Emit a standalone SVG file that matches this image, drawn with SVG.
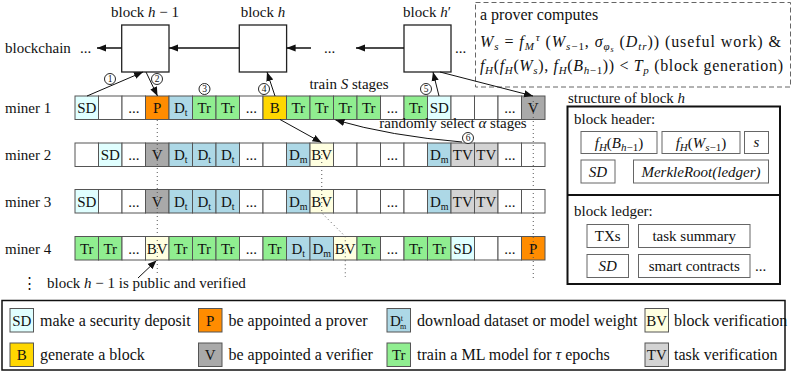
<svg xmlns="http://www.w3.org/2000/svg" width="793" height="373" viewBox="0 0 793 373">
<defs>
<style>
text{font-family:"Liberation Serif","DejaVu Serif",serif;font-size:15px;fill:#111}
.m{font-style:italic}
.c{text-anchor:middle}
.lg{font-size:16px}
.num{font-size:9.5px;text-anchor:middle}
.ring{fill:#fff;stroke:#111;stroke-width:0.9}
.cell{stroke:#555;stroke-width:1}
.blank{fill:#fff}
.sd{fill:#e0ffff}
.p{fill:#ff8c00}
.d{fill:#add8e6}
.tr{fill:#90ee90}
.b{fill:#ffd700}
.v{fill:#a9a9a9}
.bv{fill:#ffffe0}
.tv{fill:#d3d3d3}
.blk{fill:#fff;stroke:#222;stroke-width:1.3}
.arr{stroke:#111;stroke-width:1;fill:none;marker-end:url(#ah)}
.arrT{stroke:#111;stroke-width:1.5;fill:none;marker-end:url(#ah)}
.dot{stroke:#555;stroke-width:1;stroke-dasharray:1 3;fill:none}
.box{fill:#fff;stroke:#666;stroke-width:1}
</style>
<marker id="ah" viewBox="0 0 10 10" refX="10" refY="5" markerWidth="9" markerHeight="9" markerUnits="userSpaceOnUse" orient="auto">
<path d="M0,1 L10,5 L0,9 z" fill="#111"/>
</marker>
</defs>
<rect width="793" height="373" fill="#fff"/>

<!-- blockchain -->
<g id="blockchain">
<text x="5" y="53">blockchain</text>
<text x="80" y="53">...</text>
</g>
<g id="block-h-1">
<rect class="blk" x="121.7" y="25" width="47.3" height="47"/>
<text class="c" x="145" y="17">block <tspan class="m">h</tspan> − 1</text>
</g>
<g id="block-h">
<rect class="blk" x="239.3" y="25" width="47.3" height="47"/>
<text class="c" x="263" y="17">block <tspan class="m">h</tspan></text>
</g>
<text x="324" y="53">...</text>
<g id="block-h-prime">
<rect class="blk" x="404" y="25" width="47" height="47"/>
<text class="c" x="427" y="17">block <tspan class="m">h</tspan>′</text>
</g>
<text x="455" y="53">...</text>

<!-- prover box -->
<g id="prover-note">
<rect x="475.5" y="2.5" width="315" height="84.5" fill="none" stroke="#666" stroke-width="1" stroke-dasharray="5 3"/>
<text class="lg" x="480" y="20">a prover computes</text>
<text class="lg" x="480" y="47" textLength="301" lengthAdjust="spacing"><tspan class="m">W</tspan><tspan class="m" font-size="11" dy="3">s</tspan><tspan dy="-3"> = </tspan><tspan class="m">f</tspan><tspan class="m" font-size="11" dy="3">M</tspan><tspan class="m" font-size="11" dx="1" dy="-9">τ</tspan><tspan dy="6"> (</tspan><tspan class="m">W</tspan><tspan class="m" font-size="11" dy="3">s</tspan><tspan font-size="11">−1</tspan><tspan dy="-3">, </tspan><tspan class="m">σ</tspan><tspan class="m" font-size="11" dy="3">φ</tspan><tspan class="m" font-size="8" dy="2">s</tspan><tspan dy="-5"> (</tspan><tspan class="m">D</tspan><tspan class="m" font-size="11" dy="3">tr</tspan><tspan dy="-3">)) (useful work) &amp;</tspan></text>
<text class="lg" x="480" y="71" textLength="303" lengthAdjust="spacing"><tspan class="m">f</tspan><tspan class="m" font-size="11" dy="3">H</tspan><tspan dy="-3">(</tspan><tspan class="m">f</tspan><tspan class="m" font-size="11" dy="3">H</tspan><tspan dy="-3">(</tspan><tspan class="m">W</tspan><tspan class="m" font-size="11" dy="3">s</tspan><tspan dy="-3">), </tspan><tspan class="m">f</tspan><tspan class="m" font-size="11" dy="3">H</tspan><tspan dy="-3">(</tspan><tspan class="m">B</tspan><tspan class="m" font-size="11" dy="3">h</tspan><tspan font-size="11">−1</tspan><tspan dy="-3">)) &lt; </tspan><tspan class="m">T</tspan><tspan class="m" font-size="11" dy="3">p</tspan><tspan dy="-3"> (block generation)</tspan></text>
</g>

<!-- miner 1 -->
<g id="miner1">
<text x="5" y="113" font-size="15.5">miner 1</text>
<g transform="translate(75,96)">
<rect class="cell sd" x="0" y="0" width="23.5" height="23.5"/><text class="c" x="11.75" y="16.5">SD</text>
<rect class="cell blank" x="23.5" y="0" width="23.5" height="23.5"/>
<rect class="cell blank" x="47" y="0" width="23.5" height="23.5"/><text class="c" x="58.75" y="16.5">...</text>
<rect class="cell p" x="70.5" y="0" width="23.5" height="23.5"/><text class="c" x="82.25" y="16.5">P</text>
<rect class="cell d" x="94" y="0" width="23.5" height="23.5"/><text class="c" x="105.75" y="16.5">D<tspan font-size="10" dy="3">t</tspan></text>
<rect class="cell tr" x="117.5" y="0" width="23.5" height="23.5"/><text class="c" x="129.25" y="16.5">Tr</text>
<rect class="cell tr" x="141" y="0" width="23.5" height="23.5"/><text class="c" x="152.75" y="16.5">Tr</text>
<rect class="cell blank" x="164.5" y="0" width="23.5" height="23.5"/><text class="c" x="176.25" y="16.5">...</text>
<rect class="cell b" x="188" y="0" width="23.5" height="23.5"/><text class="c" x="199.75" y="16.5">B</text>
<rect class="cell tr" x="211.5" y="0" width="23.5" height="23.5"/><text class="c" x="223.25" y="16.5">Tr</text>
<rect class="cell tr" x="235" y="0" width="23.5" height="23.5"/><text class="c" x="246.75" y="16.5">Tr</text>
<rect class="cell tr" x="258.5" y="0" width="23.5" height="23.5"/><text class="c" x="270.25" y="16.5">Tr</text>
<rect class="cell tr" x="282" y="0" width="23.5" height="23.5"/><text class="c" x="293.75" y="16.5">Tr</text>
<rect class="cell blank" x="305.5" y="0" width="23.5" height="23.5"/><text class="c" x="317.25" y="16.5">...</text>
<rect class="cell tr" x="329" y="0" width="23.5" height="23.5"/><text class="c" x="340.75" y="16.5">Tr</text>
<rect class="cell sd" x="352.5" y="0" width="23.5" height="23.5"/><text class="c" x="364.25" y="16.5">SD</text>
<rect class="cell blank" x="376" y="0" width="23.5" height="23.5"/>
<rect class="cell blank" x="399.5" y="0" width="23.5" height="23.5"/>
<rect class="cell blank" x="423" y="0" width="23.5" height="23.5"/><text class="c" x="434.75" y="16.5">...</text>
<rect class="cell v" x="446.5" y="0" width="23.5" height="23.5"/><text class="c" x="458.25" y="16.5">V</text>
</g>
</g>

<!-- miner 2 -->
<g id="miner2">
<text x="5" y="160" font-size="15.5">miner 2</text>
<g transform="translate(75,143)">
<rect class="cell blank" x="0" y="0" width="23.5" height="23.5"/>
<rect class="cell sd" x="23.5" y="0" width="23.5" height="23.5"/><text class="c" x="35.25" y="17">SD</text>
<rect class="cell blank" x="47" y="0" width="23.5" height="23.5"/><text class="c" x="58.75" y="17">...</text>
<rect class="cell v" x="70.5" y="0" width="23.5" height="23.5"/><text class="c" x="82.25" y="17">V</text>
<rect class="cell d" x="94" y="0" width="23.5" height="23.5"/><text class="c" x="105.75" y="17">D<tspan font-size="10" dy="3">t</tspan></text>
<rect class="cell d" x="117.5" y="0" width="23.5" height="23.5"/><text class="c" x="129.25" y="17">D<tspan font-size="10" dy="3">t</tspan></text>
<rect class="cell d" x="141" y="0" width="23.5" height="23.5"/><text class="c" x="152.75" y="17">D<tspan font-size="10" dy="3">t</tspan></text>
<rect class="cell blank" x="164.5" y="0" width="23.5" height="23.5"/><text class="c" x="176.25" y="17">...</text>
<rect class="cell blank" x="188" y="0" width="23.5" height="23.5"/>
<rect class="cell d" x="211.5" y="0" width="23.5" height="23.5"/><text class="c" x="223.25" y="17">D<tspan font-size="10" dy="3">m</tspan></text>
<rect class="cell bv" x="235" y="0" width="23.5" height="23.5"/><text class="c" x="246.75" y="17">BV</text>
<rect class="cell blank" x="258.5" y="0" width="23.5" height="23.5"/>
<rect class="cell blank" x="282" y="0" width="23.5" height="23.5"/>
<rect class="cell blank" x="305.5" y="0" width="23.5" height="23.5"/><text class="c" x="317.25" y="17">...</text>
<rect class="cell blank" x="329" y="0" width="23.5" height="23.5"/>
<rect class="cell d" x="352.5" y="0" width="23.5" height="23.5"/><text class="c" x="364.25" y="17">D<tspan font-size="10" dy="3">m</tspan></text>
<rect class="cell tv" x="376" y="0" width="23.5" height="23.5"/><text class="c" x="387.75" y="17">TV</text>
<rect class="cell tv" x="399.5" y="0" width="23.5" height="23.5"/><text class="c" x="411.25" y="17">TV</text>
<rect class="cell blank" x="423" y="0" width="23.5" height="23.5"/><text class="c" x="434.75" y="17">...</text>
<rect class="cell blank" x="446.5" y="0" width="23.5" height="23.5"/>
</g>
</g>

<!-- miner 3 -->
<g id="miner3">
<text x="5" y="206.5" font-size="15.5">miner 3</text>
<g transform="translate(75,189.5)">
<rect class="cell sd" x="0" y="0" width="23.5" height="23.5"/><text class="c" x="11.75" y="17">SD</text>
<rect class="cell blank" x="23.5" y="0" width="23.5" height="23.5"/>
<rect class="cell blank" x="47" y="0" width="23.5" height="23.5"/><text class="c" x="58.75" y="17">...</text>
<rect class="cell v" x="70.5" y="0" width="23.5" height="23.5"/><text class="c" x="82.25" y="17">V</text>
<rect class="cell d" x="94" y="0" width="23.5" height="23.5"/><text class="c" x="105.75" y="17">D<tspan font-size="10" dy="3">t</tspan></text>
<rect class="cell d" x="117.5" y="0" width="23.5" height="23.5"/><text class="c" x="129.25" y="17">D<tspan font-size="10" dy="3">t</tspan></text>
<rect class="cell d" x="141" y="0" width="23.5" height="23.5"/><text class="c" x="152.75" y="17">D<tspan font-size="10" dy="3">t</tspan></text>
<rect class="cell blank" x="164.5" y="0" width="23.5" height="23.5"/><text class="c" x="176.25" y="17">...</text>
<rect class="cell blank" x="188" y="0" width="23.5" height="23.5"/>
<rect class="cell d" x="211.5" y="0" width="23.5" height="23.5"/><text class="c" x="223.25" y="17">D<tspan font-size="10" dy="3">m</tspan></text>
<rect class="cell bv" x="235" y="0" width="23.5" height="23.5"/><text class="c" x="246.75" y="17">BV</text>
<rect class="cell blank" x="258.5" y="0" width="23.5" height="23.5"/>
<rect class="cell blank" x="282" y="0" width="23.5" height="23.5"/>
<rect class="cell blank" x="305.5" y="0" width="23.5" height="23.5"/><text class="c" x="317.25" y="17">...</text>
<rect class="cell blank" x="329" y="0" width="23.5" height="23.5"/>
<rect class="cell d" x="352.5" y="0" width="23.5" height="23.5"/><text class="c" x="364.25" y="17">D<tspan font-size="10" dy="3">m</tspan></text>
<rect class="cell tv" x="376" y="0" width="23.5" height="23.5"/><text class="c" x="387.75" y="17">TV</text>
<rect class="cell tv" x="399.5" y="0" width="23.5" height="23.5"/><text class="c" x="411.25" y="17">TV</text>
<rect class="cell blank" x="423" y="0" width="23.5" height="23.5"/><text class="c" x="434.75" y="17">...</text>
<rect class="cell blank" x="446.5" y="0" width="23.5" height="23.5"/>
</g>
</g>

<!-- miner 4 -->
<g id="miner4">
<text x="5" y="253.5" font-size="15.5">miner 4</text>
<g transform="translate(75,236.5)">
<rect class="cell tr" x="0" y="0" width="23.5" height="23.5"/><text class="c" x="11.75" y="17">Tr</text>
<rect class="cell tr" x="23.5" y="0" width="23.5" height="23.5"/><text class="c" x="35.25" y="17">Tr</text>
<rect class="cell blank" x="47" y="0" width="23.5" height="23.5"/><text class="c" x="58.75" y="17">...</text>
<rect class="cell bv" x="70.5" y="0" width="23.5" height="23.5"/><text class="c" x="82.25" y="17">BV</text>
<rect class="cell tr" x="94" y="0" width="23.5" height="23.5"/><text class="c" x="105.75" y="17">Tr</text>
<rect class="cell tr" x="117.5" y="0" width="23.5" height="23.5"/><text class="c" x="129.25" y="17">Tr</text>
<rect class="cell tr" x="141" y="0" width="23.5" height="23.5"/><text class="c" x="152.75" y="17">Tr</text>
<rect class="cell blank" x="164.5" y="0" width="23.5" height="23.5"/><text class="c" x="176.25" y="17">...</text>
<rect class="cell tr" x="188" y="0" width="23.5" height="23.5"/><text class="c" x="199.75" y="17">Tr</text>
<rect class="cell d" x="211.5" y="0" width="23.5" height="23.5"/><text class="c" x="223.25" y="17">D<tspan font-size="10" dy="3">t</tspan></text>
<rect class="cell d" x="235" y="0" width="23.5" height="23.5"/><text class="c" x="246.75" y="17">D<tspan font-size="10" dy="3">m</tspan></text>
<rect class="cell bv" x="258.5" y="0" width="23.5" height="23.5"/><text class="c" x="270.25" y="17">BV</text>
<rect class="cell tr" x="282" y="0" width="23.5" height="23.5"/><text class="c" x="293.75" y="17">Tr</text>
<rect class="cell blank" x="305.5" y="0" width="23.5" height="23.5"/><text class="c" x="317.25" y="17">...</text>
<rect class="cell tr" x="329" y="0" width="23.5" height="23.5"/><text class="c" x="340.75" y="17">Tr</text>
<rect class="cell tr" x="352.5" y="0" width="23.5" height="23.5"/><text class="c" x="364.25" y="17">Tr</text>
<rect class="cell sd" x="376" y="0" width="23.5" height="23.5"/><text class="c" x="387.75" y="17">SD</text>
<rect class="cell blank" x="399.5" y="0" width="23.5" height="23.5"/>
<rect class="cell blank" x="423" y="0" width="23.5" height="23.5"/><text class="c" x="434.75" y="17">...</text>
<rect class="cell p" x="446.5" y="0" width="23.5" height="23.5"/><text class="c" x="458.25" y="17">P</text>
</g>
</g>

<text x="22" y="288">⋮</text>
<text x="47" y="288" font-size="15.7">block <tspan class="m">h</tspan> − 1 is public and verified</text>

<!-- connectors -->
<g id="connectors">
<line class="arrT" x1="121.7" y1="48" x2="97" y2="48"/>
<line class="arrT" x1="239.3" y1="48" x2="169" y2="48"/>
<line class="arrT" x1="311" y1="48" x2="286.6" y2="48"/>
<line class="arrT" x1="404" y1="48" x2="356" y2="48"/>
<line class="arr" x1="87" y1="96" x2="143" y2="72"/>
<line class="arr" x1="146" y1="72" x2="157.5" y2="96"/>
<line class="arr" x1="275" y1="96" x2="267" y2="72"/>
<line class="arr" x1="280" y1="119.5" x2="321.5" y2="142.5"/>
<line class="arr" x1="439" y1="96" x2="433" y2="72"/>
<line class="arr" x1="440" y1="72" x2="533" y2="96"/>
<path class="arr" d="M462,142 Q390,136 335.5,120"/>
<line class="arr" x1="138" y1="278" x2="156.5" y2="260.5"/>
<line class="dot" x1="157.25" y1="120" x2="157.25" y2="273"/>
<polyline class="dot" points="321.75,150 321.75,213 345.25,236.5 345.25,277"/>
<line class="dot" x1="533.25" y1="101" x2="533.25" y2="278"/>
</g>

<!-- step markers -->
<g id="step-markers">
<circle class="ring" cx="110" cy="79" r="5.5"/><text class="num" x="110" y="82.3">1</text>
<circle class="ring" cx="157" cy="79" r="5.5"/><text class="num" x="157" y="82.3">2</text>
<circle class="ring" cx="204.5" cy="89" r="5.5"/><text class="num" x="204.5" y="92.3">3</text>
<circle class="ring" cx="264" cy="89" r="5.5"/><text class="num" x="264" y="92.3">4</text>
<circle class="ring" cx="426" cy="89" r="5.5"/><text class="num" x="426" y="92.3">5</text>
<circle class="ring" cx="468" cy="138" r="5.5"/><text class="num" x="468" y="141.3">6</text>
</g>
<text class="c" x="349" y="89" font-size="16">train <tspan class="m">S</tspan> stages</text>
<text class="c" x="453" y="128" font-size="12.5">randomly select <tspan class="m">α</tspan> stages</text>

<!-- structure of block h -->
<g id="block-structure">
<text x="568" y="103" font-size="16">structure of block <tspan class="m">h</tspan></text>
<rect x="567.5" y="106.5" width="212.5" height="177.5" fill="none" stroke="#111" stroke-width="2"/>
<line x1="567.5" y1="195" x2="780" y2="195" stroke="#111" stroke-width="2"/>
<text x="574" y="124" font-size="16">block header:</text>
<rect class="box" x="581" y="131.5" width="76" height="22"/>
<text class="c" x="619" y="147.5" font-size="16.5"><tspan class="m">f</tspan><tspan class="m" font-size="11" dy="3">H</tspan><tspan dy="-3">(</tspan><tspan class="m">B</tspan><tspan class="m" font-size="11" dy="3">h</tspan><tspan font-size="11">−1</tspan><tspan dy="-3">)</tspan></text>
<rect class="box" x="662" y="131.5" width="78" height="22"/>
<text class="c" x="701" y="147.5" font-size="16.5"><tspan class="m">f</tspan><tspan class="m" font-size="11" dy="3">H</tspan><tspan dy="-3">(</tspan><tspan class="m">W</tspan><tspan class="m" font-size="11" dy="3">s</tspan><tspan font-size="11">−1</tspan><tspan dy="-3">)</tspan></text>
<rect class="box" x="744.5" y="131.5" width="24" height="22"/>
<text class="c m" x="756.5" y="147" font-size="16">s</text>
<rect class="box" x="581" y="160" width="34" height="23"/>
<text class="c m" x="598" y="176.5" font-size="16">SD</text>
<rect class="box" x="633.5" y="160" width="135" height="23"/>
<text class="c m" x="701" y="176.5" font-size="16.5">MerkleRoot(ledger)</text>
<text x="574" y="216" font-size="16">block ledger:</text>
<rect class="box" x="587" y="224.5" width="41.5" height="23"/>
<text class="c" x="607.75" y="241" font-size="16">TXs</text>
<rect class="box" x="638.5" y="224.5" width="111.5" height="23"/>
<text class="c" x="694.25" y="241" font-size="16.5">task summary</text>
<rect class="box" x="587" y="254.5" width="41.5" height="23"/>
<text class="c m" x="607.75" y="271" font-size="16">SD</text>
<rect class="box" x="638.5" y="254.5" width="111.5" height="23"/>
<text class="c" x="694.25" y="271" font-size="16">smart contracts</text>
<text x="755" y="271">...</text>
</g>

<!-- legend -->
<g id="legend">
<rect x="2" y="300.5" width="783" height="69.5" fill="none" stroke="#111" stroke-width="1.5"/>
<rect class="cell sd" x="10" y="308.5" width="23.5" height="23.5"/><text class="c" x="21.75" y="325.5">SD</text>
<text class="lg" x="40" y="325.5">make a security deposit</text>
<rect class="cell p" x="198.5" y="308.5" width="23.5" height="23.5"/><text class="c" x="210.25" y="325.5">P</text>
<text class="lg" x="228.5" y="325.5">be appointed a prover</text>
<rect class="cell d" x="387" y="308.5" width="23.5" height="23.5"/><text x="390" y="325.5">D<tspan font-size="8" dy="-5">t</tspan><tspan font-size="8" dx="-3" dy="8">m</tspan></text>
<text class="lg" x="417" y="325.5">download dataset or model weight</text>
<rect class="cell bv" x="645" y="308.5" width="23.5" height="23.5"/><text class="c" x="656.75" y="325.5">BV</text>
<text class="lg" x="674" y="325.5">block verification</text>
<rect class="cell b" x="10" y="343" width="23.5" height="23.5"/><text class="c" x="21.75" y="360">B</text>
<text class="lg" x="40" y="360">generate a block</text>
<rect class="cell v" x="198.5" y="343" width="23.5" height="23.5"/><text class="c" x="210.25" y="360">V</text>
<text class="lg" x="228.5" y="360">be appointed a verifier</text>
<rect class="cell tr" x="387" y="343" width="23.5" height="23.5"/><text class="c" x="398.75" y="360">Tr</text>
<text class="lg" x="417" y="360">train a ML model for <tspan class="m">τ</tspan> epochs</text>
<rect class="cell tv" x="645" y="343" width="23.5" height="23.5"/><text class="c" x="656.75" y="360">TV</text>
<text class="lg" x="674" y="360">task verification</text>
</g>
</svg>
